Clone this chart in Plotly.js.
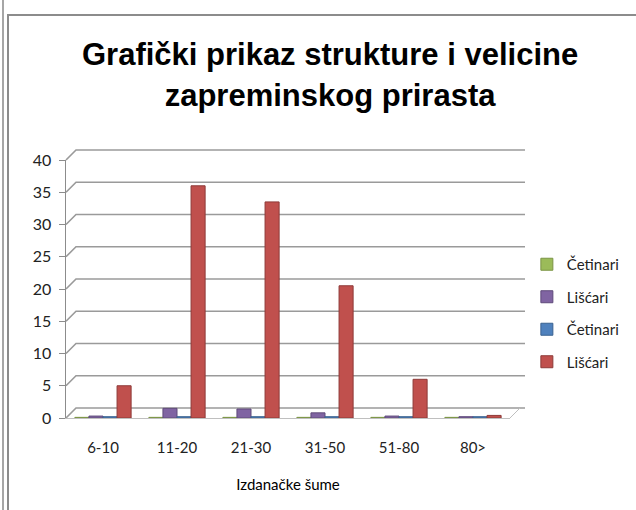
<!DOCTYPE html>
<html>
<head>
<meta charset="utf-8">
<script src="https://cdn.plot.ly/plotly-3.0.1.min.js"></script>
<style>
  html, body { margin: 0; padding: 0; background: #fff; width: 636px; height: 510px; overflow: hidden; }
  #chart { position: absolute; left: 0; top: 0; width: 636px; height: 510px; }
  #outer { position: absolute; left: 2px; top: 0; width: 0; height: 510px; border-left: 2px solid #a6a6a6; }
  #frame { position: absolute; left: 7px; top: 14px; width: 640px; height: 520px; border-left: 2px solid #8c8c8c; border-top: 2px solid #8c8c8c; }
</style>
</head>
<body>
<div id="outer"></div>
<div id="frame"></div>
<div id="chart"></div>
<script>
const categories = ['6-10', '11-20', '21-30', '31-50', '51-80', '80>'];
const cetinari1 = [0.1, 0.1, 0.1, 0.1, 0.1, 0.1];
const liscari1  = [0.3, 1.5, 1.4, 0.8, 0.3, 0.2];
const cetinari2 = [0.2, 0.2, 0.2, 0.2, 0.2, 0.2];
const liscari2  = [5, 36, 33.5, 20.5, 6, 0.4];
const yTicks = [0, 5, 10, 15, 20, 25, 30, 35, 40];
const yRange = [0, 40];

const seriesNames = ['Četinari', 'Lišćari', 'Četinari', 'Lišćari'];
const seriesData = [cetinari1, liscari1, cetinari2, liscari2];
const colors = ['#9bbb59', '#8064a2', '#4f81bd', '#c0504d'];
const edge = ['#7a9445', '#5f4a7a', '#3a6290', '#8e3a38'];

const W = 636, H = 510;
const M = { l: 66, r: 121, t: 160, b: 92 };
const plotW = W - M.l - M.r;
const depth = 10; // pseudo-3D depth of the back wall, px

const traces = seriesData.map((vals, i) => ({
  type: 'bar',
  x: categories,
  y: vals,
  name: seriesNames[i],
  legendgroup: 'g' + i,
  marker: { color: colors[i], line: { color: edge[i], width: 1 } },
  hoverinfo: 'x+y+name'
}));

// back-wall gridlines with the diagonal stub from the front axis
// (paper-referenced so they are not clipped at the top of the plot area)
const toPaperY = v => (v - yRange[0]) / (yRange[1] - yRange[0]);
const gridShapes = yTicks.map(v => ({
  type: 'path',
  xref: 'paper', yref: 'paper',
  xsizemode: 'pixel', ysizemode: 'pixel',
  xanchor: 0, yanchor: toPaperY(v),
  path: `M0,0 L${depth},${depth} L${plotW + depth},${depth}`,
  line: { color: '#9a9a9a', width: 1.6 },
  layer: 'below'
}));
// right edge of the floor
gridShapes.push({
  type: 'path',
  xref: 'paper', yref: 'paper',
  xsizemode: 'pixel', ysizemode: 'pixel',
  xanchor: 1, yanchor: 0,
  path: `M0,0 L${depth},${depth}`,
  line: { color: '#bfbfbf', width: 1 },
  layer: 'below'
});

const layout = {
  width: W,
  height: H,
  paper_bgcolor: 'rgba(0,0,0,0)',
  plot_bgcolor: 'rgba(0,0,0,0)',
  margin: M,
  barmode: 'group',
  bargap: 0.24,
  bargroupgap: 0,
  font: { family: 'Lato, "Liberation Sans", sans-serif', size: 15, color: '#222' },
  title: {
    text: '<b>Grafički prikaz strukture i velicine<br>zapreminskog prirasta</b>',
    font: { family: '"Liberation Sans", Arial, sans-serif', size: 31, color: '#000' },
    x: 0.519, xref: 'container', xanchor: 'center',
    y: 0.872, yref: 'container', yanchor: 'top'
  },
  xaxis: {
    type: 'category',
    showgrid: false,
    showline: true,
    linecolor: '#bfbfbf',
    linewidth: 1,
    ticks: '',
    ticklabelstandoff: 16,
    tickfont: { size: 15, color: '#222' },
    title: { text: 'Izdanačke šume', font: { size: 15, color: '#000' }, standoff: 24 }
  },
  yaxis: {
    range: yRange,
    tickvals: yTicks,
    ticktext: yTicks.map(String),
    showgrid: false,
    showline: true,
    linecolor: '#8c8c8c',
    linewidth: 1.5,
    ticks: 'outside',
    ticklen: 6,
    tickcolor: '#8c8c8c',
    ticklabelstandoff: 4,
    tickfont: { size: 16, color: '#222' },
    zeroline: false
  },
  shapes: gridShapes,
  showlegend: true,
  legend: {
    x: 1.038, xanchor: 'left',
    y: 0.407, yanchor: 'middle',
    traceorder: 'grouped',
    tracegroupgap: 10,
    itemwidth: 30,
    font: { size: 15, color: '#222' },
    bgcolor: 'rgba(0,0,0,0)'
  }
};

Plotly.newPlot('chart', traces, layout, { displayModeBar: false, staticPlot: true });
</script>
</body>
</html>
